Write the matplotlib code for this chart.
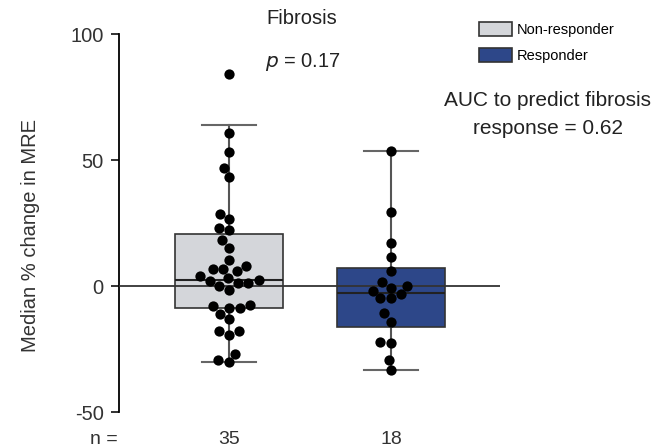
import matplotlib
matplotlib.use('Agg')
import matplotlib.pyplot as plt
import seaborn as sns
import pandas as pd
from matplotlib.patches import Patch

# values (% change in MRE)
non_responder = [84.1, 60.8, 53.1, 46.8, 43.2, 28.5, 26.5, 23.2, 22.1, 18.1,
                 15.1, 10.5, 8.0, 6.8, 6.8, 5.9, 4.0, 3.2, 2.0, 2.5,
                 1.0, 1.3, 0.1, -1.5, -8.9, -7.5, -8.1, -8.9, -11.2, -13.2,
                 -17.9, -17.9, -19.6, -26.8, -30.3, -29.5]
responder = [53.7, 29.5, 17.2, 11.5, 6.1, 1.5, 0.1, -1.9, -0.8, -3.2,
             -4.9, -4.9, -10.9, -14.1, -22.1, -22.5, -29.2, -33.2]

groups = ['Non-responder', 'Responder']
n_labels = ['35', '18']
colors = ['#d4d6da', '#2d4789']

# box summary as drawn in the figure
q1 = [-8.8, -16.3]
med = [2.5, -2.8]
q3 = [20.8, 7.1]
whislo = [-30.0, -33.2]
whishi = [64.0, 53.7]

plt.rcParams['font.family'] = ['Liberation Sans', 'DejaVu Sans']
plt.rcParams['axes.unicode_minus'] = False

fig = plt.figure(figsize=(6.54, 4.47), dpi=100)
ax = fig.add_axes([119 / 654, 35 / 447, 381 / 654, 378 / 447])

stats = []
for i, g in enumerate(groups):
    stats.append({'label': g, 'q1': q1[i], 'med': med[i], 'q3': q3[i],
                  'whislo': whislo[i], 'whishi': whishi[i], 'fliers': []})

bp = ax.bxp(stats, positions=[0, 1], widths=0.667, capwidths=0.333,
            patch_artist=True, showfliers=False,
            boxprops=dict(edgecolor='#333333', linewidth=1.2),
            medianprops=dict(color='#222222', linewidth=1.5),
            whiskerprops=dict(color='#555555', linewidth=1.5),
            capprops=dict(color='#666666', linewidth=1.5))
for patch, c in zip(bp['boxes'], colors):
    patch.set_facecolor(c)

ax.axhline(0, color='#333333', linewidth=1.3, zorder=3)

df = pd.DataFrame({
    'group': [groups[0]] * len(non_responder) + [groups[1]] * len(responder),
    'value': non_responder + responder,
})
sns.swarmplot(data=df, x='group', y='value', order=groups, color='black',
              size=7.4, ax=ax, zorder=4)

ax.set_xlim(-0.679, 1.673)
ax.set_ylim(-50, 100)
ax.set_yticks([-50, 0, 50, 100])
ax.set_xticks([])
ax.set_xlabel('')
ax.set_ylabel('Median % change in MRE', fontsize=14.5, color='#333333')
ax.yaxis.set_label_coords(-0.207, 0.468)
ax.tick_params(axis='y', labelsize=14.5, length=6, width=1.3, pad=5,
               colors='#222222', labelcolor='#333333')
for s in ['top', 'right', 'bottom']:
    ax.spines[s].set_visible(False)
ax.spines['left'].set_linewidth(1.3)

# titles and annotations
fig.text(302 / 654, 1 - 18 / 447, 'Fibrosis', ha='center', va='center',
         fontsize=14.5, color='#222222')
fig.text(303 / 654, 1 - 62 / 447, r'$p$ = 0.17', ha='center', va='center',
         fontsize=14.5, color='#222222')
fig.text(104 / 654, 1 - 439 / 447, 'n =', ha='center', va='center',
         fontsize=14, color='#333333')
for pos, lab in enumerate(n_labels):
    xf = ax.transData.transform((pos, 0))[0] / fig.bbox.width
    fig.text(xf, 1 - 439 / 447, lab, ha='center', va='center',
             fontsize=14, color='#333333')

handles = [Patch(facecolor=c, edgecolor='#333333', linewidth=1.2) for c in colors]
fig.legend(handles, groups, loc='upper left', bbox_to_anchor=(476 / 654, 1 - 19 / 447),
           frameon=False, fontsize=10.5, handlelength=2.3, handleheight=1.1,
           handletextpad=0.3, labelspacing=0.75, borderaxespad=0,
           borderpad=0.2)

fig.text(548 / 654, 1 - 100 / 447, 'AUC to predict fibrosis', ha='center',
         va='center', fontsize=15, color='#222222')
fig.text(548 / 654, 1 - 128 / 447, 'response = 0.62', ha='center',
         va='center', fontsize=15, color='#222222')

fig.savefig('out.png', dpi=100)
